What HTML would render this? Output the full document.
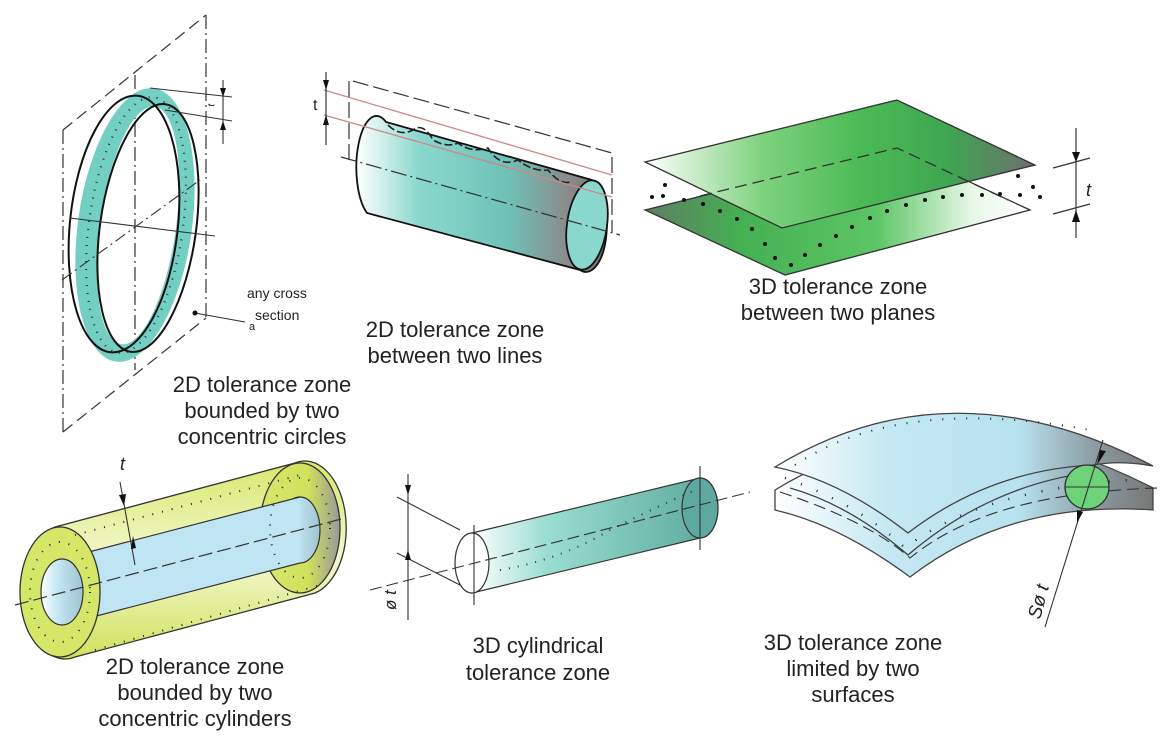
<!DOCTYPE html>
<html><head><meta charset="utf-8"><style>
html,body{margin:0;padding:0;background:#fff}
svg{display:block}
text{font-family:"Liberation Sans",sans-serif;fill:#222}
</style></head><body>
<svg width="1171" height="747" viewBox="0 0 1171 747" xmlns="http://www.w3.org/2000/svg">
<defs>
<linearGradient id="cyl" x1="0" x2="1" y1="0" y2="0">
<stop offset="0" stop-color="#fff"/><stop offset="0.25" stop-color="#8ad8cd"/><stop offset="0.6" stop-color="#6fc2b8"/><stop offset="0.85" stop-color="#8a8a8a"/><stop offset="1" stop-color="#707070"/></linearGradient>
<linearGradient id="pl1" x1="0" x2="1" y1="0" y2="0">
<stop offset="0" stop-color="#fff"/><stop offset="0.3" stop-color="#7fd27f"/><stop offset="0.55" stop-color="#4cbb56"/><stop offset="0.78" stop-color="#3fa552"/><stop offset="1" stop-color="#6e6e6e"/></linearGradient>
<linearGradient id="pl2" x1="0" x2="1" y1="0" y2="0">
<stop offset="0" stop-color="#5e7d63"/><stop offset="0.25" stop-color="#45b052"/><stop offset="0.6" stop-color="#5cc565"/><stop offset="0.85" stop-color="#e8f8e8"/><stop offset="1" stop-color="#fff"/></linearGradient>
<linearGradient id="surf" x1="0" x2="1" y1="0" y2="0">
<stop offset="0" stop-color="#fff"/><stop offset="0.3" stop-color="#c4e8f2"/><stop offset="0.65" stop-color="#b7e1ee"/><stop offset="0.85" stop-color="#8a9aa0"/><stop offset="1" stop-color="#777"/></linearGradient>
<linearGradient id="yg" x1="0" x2="0" y1="0" y2="1">
<stop offset="0" stop-color="#d7e86a"/><stop offset="0.5" stop-color="#f4f8d0"/><stop offset="1" stop-color="#cfe25a"/></linearGradient>
<linearGradient id="yg2" x1="0" x2="1" y1="0" y2="0">
<stop offset="0" stop-color="#d6e86c"/><stop offset="0.6" stop-color="#cfe25c"/><stop offset="1" stop-color="#999"/></linearGradient>
<linearGradient id="blu" x1="0" x2="1"><stop offset="0" stop-color="#fff"/><stop offset="0.4" stop-color="#c2e7f3"/><stop offset="1" stop-color="#9fc4d0"/></linearGradient>
<linearGradient id="tc" x1="0" x2="1"><stop offset="0" stop-color="#fff"/><stop offset="0.3" stop-color="#9bddd2"/><stop offset="1" stop-color="#5aa89b"/></linearGradient>
</defs>

<!-- ===== Ring (top-left) ===== -->
<g fill="none" stroke="#333" stroke-width="1.2" stroke-dasharray="14,4,2,4">
<line x1="63" y1="130" x2="63" y2="432"/>
<line x1="206" y1="15" x2="206" y2="318"/>
<line x1="135" y1="75" x2="135" y2="370"/>
</g>
<g fill="none" stroke="#333" stroke-width="1.2" stroke-dasharray="12,6">
<line x1="63" y1="130" x2="206" y2="15"/>
<line x1="63" y1="432" x2="206" y2="318"/>
</g>
<g transform="rotate(8 135 225)">
<path fill="#74cfc3" fill-rule="evenodd" d="M78,225 a57,138 0 1,0 114,0 a57,138 0 1,0 -114,0 Z M100,225 a38,120 0 1,0 76,0 a38,120 0 1,0 -76,0 Z"/>
<ellipse cx="136" cy="225" rx="47" ry="129" fill="none" stroke="#234" stroke-width="2.2" stroke-dasharray="1,7"/>
</g>
<ellipse cx="124" cy="224" rx="54" ry="129" transform="rotate(6 124 224)" fill="none" stroke="#111" stroke-width="2"/>
<ellipse cx="148" cy="228" rx="48" ry="125" transform="rotate(8 148 228)" fill="none" stroke="#111" stroke-width="2"/>
<g stroke="#333" stroke-width="1.1" fill="none">
<line x1="150" y1="88" x2="232" y2="97"/>
<line x1="165" y1="110" x2="232" y2="121"/>
<line x1="223" y1="80" x2="223" y2="144"/>
<line x1="70" y1="218" x2="215" y2="236"/>
<line x1="62" y1="280" x2="200" y2="180" stroke-dasharray="12,4,2,4"/>
<line x1="195" y1="313" x2="245" y2="322"/>
</g>
<path d="M220,88 L226,88 L223,97Z M220,130 L226,130 L223,121Z" fill="#111"/>
<circle cx="195" cy="313" r="2.5" fill="#111"/>
<text x="214" y="107" font-size="10" transform="rotate(-80 214 107)">t</text>
<text x="247" y="298" font-size="14">any cross</text>
<text x="255" y="320" font-size="14">section</text>
<text x="249" y="330" font-size="11">a</text>
<g font-size="22" text-anchor="middle">
<text x="262" y="392">2D tolerance zone</text>
<text x="262" y="418">bounded by two</text>
<text x="262" y="444">concentric circles</text>
</g>

<!-- ===== Cylinder between two lines ===== -->
<path d="M386,122 L592,180 A20,45 0 0,1 580,270 L367,213 A18,46 0 0,1 386,122 Z" fill="url(#cyl)" stroke="#111" stroke-width="1.8"/>
<ellipse cx="587" cy="225" rx="20" ry="45" transform="rotate(8 587 225)" fill="#8ad8cd" stroke="#111" stroke-width="1.8"/>
<path d="M388,125 q12,12 25,5 q10,-8 20,10 q14,8 25,3 q12,10 30,5 q12,20 30,12 q15,12 30,10 q12,15 22,12" fill="none" stroke="#222" stroke-width="1.6" stroke-dasharray="8,3"/>
<g stroke="#c88" stroke-width="1.3"><line x1="324" y1="90" x2="612" y2="175"/><line x1="324" y1="115" x2="612" y2="197"/></g>
<g stroke="#333" stroke-width="1.2" fill="none">
<path d="M349,160 L349,80 L612,153 L612,232" stroke-dasharray="16,5"/>
<line x1="341" y1="157" x2="620" y2="235" stroke-dasharray="16,4,2,4"/>
<line x1="326" y1="72" x2="326" y2="145"/>
</g>
<path d="M323,80 L329,80 L326,90Z M323,125 L329,125 L326,115Z" fill="#111"/>
<text x="313" y="110" font-size="16">t</text>
<g font-size="22" text-anchor="middle">
<text x="455" y="337">2D tolerance zone</text>
<text x="455" y="363">between two lines</text>
</g>

<!-- ===== Two planes ===== -->
<path d="M645,210 L897,148 L1030,210 L785,275 Z" fill="url(#pl2)" stroke="#333" stroke-width="1.3"/>
<path d="M645,162 L897,100 L1035,165 L782,228 Z" fill="url(#pl1)" stroke="#333" stroke-width="1.3"/>
<path d="M700,196 L897,148 L1008,200" fill="none" stroke="#333" stroke-width="1.3" stroke-dasharray="12,6"/>
<g fill="#111">
<circle cx="663" cy="196" r="2"/><circle cx="665" cy="185" r="2"/><circle cx="652" cy="197" r="2"/><circle cx="684" cy="200" r="2"/>
<circle cx="703" cy="204" r="2"/><circle cx="720" cy="211" r="2"/><circle cx="737" cy="219" r="2"/><circle cx="752" cy="229" r="2"/><circle cx="765" cy="244" r="2"/><circle cx="775" cy="258" r="2"/><circle cx="791" cy="265" r="2"/><circle cx="805" cy="255" r="2"/><circle cx="820" cy="245" r="2"/><circle cx="836" cy="236" r="2"/><circle cx="852" cy="227" r="2"/><circle cx="870" cy="218" r="2"/>
<circle cx="887" cy="211" r="2"/><circle cx="906" cy="205" r="2"/><circle cx="925" cy="200" r="2"/><circle cx="943" cy="197" r="2"/><circle cx="962" cy="195" r="2"/><circle cx="982" cy="195" r="2"/><circle cx="1000" cy="194" r="2"/><circle cx="1020" cy="195" r="2"/><circle cx="1040" cy="197" r="2"/><circle cx="1033" cy="187" r="2"/><circle cx="1018" cy="176" r="2"/>
</g>
<g stroke="#333" stroke-width="1.2"><line x1="1076" y1="128" x2="1076" y2="238"/><line x1="1053" y1="168" x2="1090" y2="158"/><line x1="1053" y1="214" x2="1090" y2="204"/></g>
<path d="M1072,152 L1080,152 L1076,162Z M1072,222 L1080,222 L1076,210Z" fill="#111"/>
<text x="1086" y="196" font-size="18" font-style="italic">t</text>
<g font-size="22" text-anchor="middle">
<text x="838" y="294">3D tolerance zone</text>
<text x="838" y="320">between two planes</text>
</g>

<!-- ===== Concentric cylinders ===== -->
<path d="M55,527 L295,463 A40,65 0 0,1 315,593 L75,657 A40,65 0 0,1 55,527 Z" fill="url(#yg)" stroke="#333" stroke-width="1.3"/>
<ellipse cx="300" cy="528" rx="40" ry="65" fill="url(#yg2)" stroke="#333" stroke-width="1.3"/>
<ellipse cx="300" cy="530" rx="20" ry="33" fill="url(#blu)" stroke="#333" stroke-width="1.2"/>
<path d="M62,559 L300,497 L300,563 L62,625 Z" fill="#bfe5f2"/>
<line x1="62" y1="559" x2="300" y2="497" stroke="#333" stroke-width="1.2"/>
<line x1="62" y1="625" x2="300" y2="563" stroke="#333" stroke-width="1.2"/>
<ellipse cx="60" cy="592" rx="40" ry="65" fill="#d5e769" stroke="#333" stroke-width="1.3"/>
<ellipse cx="62" cy="592" rx="21" ry="33" fill="url(#blu)" stroke="#333" stroke-width="1.2"/>
<g fill="none" stroke="#222" stroke-width="2" stroke-dasharray="1,9">
<ellipse cx="60" cy="592" rx="30" ry="50"/>
<line x1="75" y1="535" x2="300" y2="475"/>
<line x1="95" y1="650" x2="320" y2="585"/>
<ellipse cx="300" cy="528" rx="30" ry="50"/>
</g>
<line x1="15" y1="605" x2="345" y2="518" stroke="#333" stroke-width="1.2" stroke-dasharray="14,5"/>
<line x1="120" y1="482" x2="135" y2="565" stroke="#333" stroke-width="1.1"/>
<path d="M119,495 L126,494 L124,506Z M131,549 L136,548 L133,536Z" fill="#111"/>
<text x="120" y="470" font-size="18" font-style="italic">t</text>
<g font-size="22" text-anchor="middle">
<text x="195" y="674">2D tolerance zone</text>
<text x="195" y="700">bounded by two</text>
<text x="195" y="726">concentric cylinders</text>
</g>

<!-- ===== 3D cylindrical ===== -->
<path d="M472,533 L700,478 A18,30 0 0,1 700,538 L472,593 Z" fill="url(#tc)" stroke="#333" stroke-width="1.2"/>
<ellipse cx="700" cy="508" rx="18" ry="30" fill="#5ea99f" stroke="#333" stroke-width="1.2"/>
<ellipse cx="472" cy="563" rx="17" ry="30" fill="#fff" stroke="#333" stroke-width="1.2"/>
<g stroke="#333" stroke-width="1.1" fill="none">
<line x1="370" y1="590" x2="750" y2="492" stroke-dasharray="12,5"/>
<line x1="408" y1="474" x2="408" y2="620"/>
<line x1="397" y1="497" x2="460" y2="530"/>
<line x1="397" y1="553" x2="460" y2="585"/>
<line x1="474" y1="525" x2="474" y2="605"/>
<line x1="700" y1="466" x2="700" y2="550"/>
<path d="M500,570 q60,-10 110,-40 q40,-20 85,-40" stroke-dasharray="1,8" stroke-width="2"/>
</g>
<path d="M405,485 L411,485 L408,495Z M405,560 L411,560 L408,550Z" fill="#111"/>
<text x="396" y="610" font-size="17" font-style="italic" transform="rotate(-90 396 610)">ø t</text>
<g font-size="22" text-anchor="middle">
<text x="538" y="653">3D cylindrical</text>
<text x="538" y="680">tolerance zone</text>
</g>

<!-- ===== Curved surfaces ===== -->
<path d="M775,490 Q950,383 1153,488 L1153,510 Q1010,500 910,577 Q840,525 775,510 Z" fill="url(#surf)" stroke="#444" stroke-width="1.3"/>
<path d="M775,467 Q950,360 1153,466 Q1120,460 1093,465 Q990,470 908,533 Q840,480 775,467 Z" fill="url(#surf)" stroke="#444" stroke-width="1.3"/>
<path d="M790,488 Q850,505 908,555 Q990,485 1093,472" fill="none" stroke="#444" stroke-width="1.3"/>
<path d="M795,465 Q900,395 1090,430" fill="none" stroke="#222" stroke-width="2" stroke-dasharray="1,11"/>
<path d="M785,478 Q860,505 905,548 Q980,490 1130,480" fill="none" stroke="#222" stroke-width="2.5" stroke-dasharray="1,16"/>
<path d="M780,492 Q870,522 910,558 Q990,492 1160,488" fill="none" stroke="#333" stroke-width="1.1" stroke-dasharray="12,6"/>
<circle cx="1087" cy="487" r="22" fill="#6ed378" stroke="#333" stroke-width="1.3"/>
<line x1="1065" y1="487" x2="1109" y2="487" stroke="#333"/>
<line x1="1045" y1="627" x2="1103" y2="440" stroke="#333" stroke-width="1.1"/>
<path d="M1100,450 L1106,451 L1097,465Z M1077,510 L1083,512 L1077,523Z" fill="#111"/>
<text x="1040" y="620" font-size="19" font-style="italic" transform="rotate(-75 1040 620)">Sø t</text>
<g font-size="22" text-anchor="middle">
<text x="853" y="650">3D tolerance zone</text>
<text x="853" y="676">limited by two</text>
<text x="853" y="702">surfaces</text>
</g>
</svg>
</body></html>
